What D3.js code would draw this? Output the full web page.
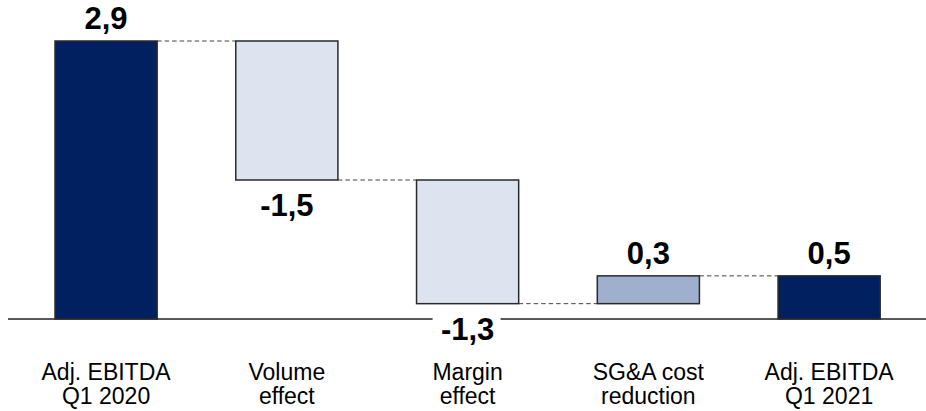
<!DOCTYPE html>
<html><head><meta charset="utf-8">
<script src="https://cdn.jsdelivr.net/npm/d3@7"></script>
<style>
html,body{margin:0;padding:0;background:#fff;}
svg{display:block;font-family:"Liberation Sans",Arial,sans-serif;}
</style></head>
<body>
<svg id="chart" width="926" height="411"></svg>
<script>
const categories = [["Adj. EBITDA","Q1 2020"],["Volume","effect"],["Margin","effect"],["SG&A cost","reduction"],["Adj. EBITDA","Q1 2021"]];
const values = [2.9, -1.45, -1.29, 0.29, 0.45];
const kinds = ["total","delta","delta","delta","total"];
const valueLabels = ["2,9","-1,5","-1,3","0,3","0,5"];

const colors = {total:"#002060", neg:"#DEE4EF", pos:"#9EB0CE"};

const svg = d3.select("#chart");
const x = d3.scaleBand().domain(d3.range(values.length)).range([15.7, 919.5]).paddingInner(0.435).paddingOuter(0.2175);
const y = d3.scaleLinear().domain([0, 2.9]).range([319, 41]);

let run = 0;
const bars = values.map((v,i)=>{
  let y0, y1;
  if (kinds[i]==="total"){ y0 = 0; y1 = v; run = v; }
  else { y0 = run; y1 = run + v; run = y1; }
  return {i, v, lo: Math.min(y0,y1), hi: Math.max(y0,y1), end: y1, kind: kinds[i]};
});

// connectors
const conn = svg.append("g");
bars.slice(0,-1).forEach((b,k)=>{
  const n = bars[k+1];
  conn.append("line")
    .attr("x1", x(b.i)+x.bandwidth()).attr("x2", x(n.i))
    .attr("y1", y(b.end)).attr("y2", y(b.end))
    .attr("stroke","#444").attr("stroke-width",1).attr("stroke-dasharray","4.5,3");
});

// axis line
svg.append("line").attr("x1",8).attr("x2",926).attr("y1",y(0)).attr("y2",y(0))
  .attr("stroke","#222").attr("stroke-width",1.5);

svg.append("g").selectAll("rect").data(bars).join("rect")
  .attr("x", d=>x(d.i)).attr("width", x.bandwidth())
  .attr("y", d=>y(d.hi)).attr("height", d=>y(d.lo)-y(d.hi))
  .attr("fill", d=> d.kind==="total" ? colors.total : (d.v<0 ? colors.neg : colors.pos))
  .attr("stroke","#2a2a2a").attr("stroke-width",1.5);

// value labels
const lg = svg.append("g");
bars.forEach(d=>{
  const cx = x(d.i)+x.bandwidth()/2;
  const neg = d.kind==="delta" && d.v<0;
  const ty = neg ? y(d.lo)+36 : y(d.hi)-12;
  if (neg && y(d.lo)+20 > y(0)) {
    lg.append("rect").attr("x",cx-35).attr("y",y(0)-2).attr("width",68).attr("height",6).attr("fill","#fff");
  }
  lg.append("text").attr("x",cx).attr("y",ty).attr("text-anchor","middle")
    .attr("font-size",31).attr("font-weight","bold").attr("fill","#000")
    .text(valueLabels[d.i]);
});

// category labels
const cg = svg.append("g");
categories.forEach((c,i)=>{
  const t = cg.append("text").attr("x", x(i)+x.bandwidth()/2).attr("y",380)
    .attr("text-anchor","middle").attr("font-size",23).attr("fill","#000");
  c.forEach((line,j)=>{
    t.append("tspan").attr("x", x(i)+x.bandwidth()/2).attr("dy", j===0?0:24).text(line);
  });
});
</script>
</body></html>
